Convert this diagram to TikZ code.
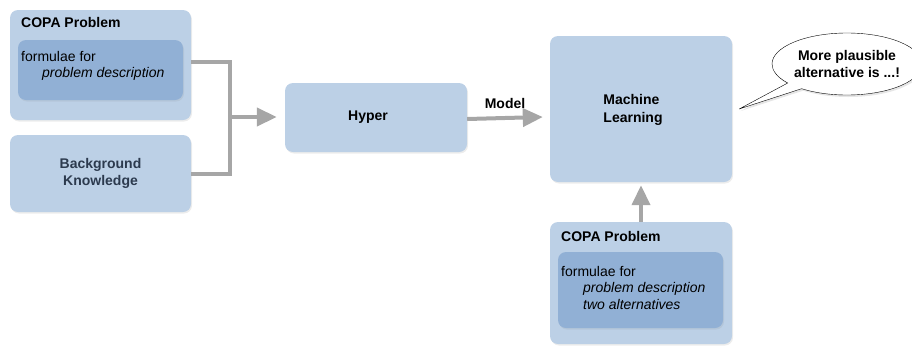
\documentclass[tikz,border=0pt]{standalone}
\usepackage{fontspec}
\setmainfont{Liberation Sans}
\usetikzlibrary{arrows.meta,shapes.callouts,shadows}
\definecolor{boxblue}{RGB}{188,208,230}
\definecolor{innerblue}{RGB}{145,176,213}
\definecolor{flowgray}{RGB}{166,166,166}
\definecolor{slate}{RGB}{44,58,78}
\tikzset{box/.style = {rounded corners=8pt,fill=boxblue,inner sep=0pt,
  drop shadow={opacity=0.15,shadow xshift=1pt,shadow yshift=-1.5pt}}}
\tikzset{innerbox/.style = {rounded corners=8pt,fill=innerblue,inner sep=0pt,
  drop shadow={opacity=0.12,shadow xshift=1pt,shadow yshift=-1.5pt}}}
\tikzset{pipe/.style = {draw=flowgray,line width=4pt}}
\tikzset{flow/.style = {pipe,-{Triangle[length=20pt,width=18pt]}}}
\tikzset{txt/.style = {inner sep=0pt,align=left}}

\begin{document}
\begin{tikzpicture}[x=1pt,y=-1pt,font=\fontsize{14}{16.5}\selectfont]
  \useasboundingbox (0,0) rectangle (912,346);
  % left side
  \node[box,minimum width=181pt,minimum height=110pt] (copa1) at (100.5,65) {};
  \node[innerbox,minimum width=165pt,minimum height=60pt] (inner1) at (100.5,70) {};
  \node[txt,anchor=north west,font=\fontsize{14}{16.5}\selectfont\bfseries] (title1) at (21,17) {COPA Problem};
  \node[txt,anchor=north west] (form1) at (21,51) {formulae for\\\hspace*{21pt}\itshape problem description};
  \node[box,minimum width=181pt,minimum height=77pt] (bk) at (100.5,173.5) {};
  \node[txt,align=center,text=slate,font=\fontsize{14}{17.5}\selectfont\bfseries] (bktext) at (bk) {Background\\Knowledge};

  \node[box,minimum width=182pt,minimum height=69pt] (hyper) at (376,117.5) {};
  \node[txt,font=\fontsize{14}{16.5}\selectfont\bfseries] (hypertext) at (368,117) {Hyper};

  % right side
  \node[box,minimum width=182pt,minimum height=146pt] (ml) at (641,109) {};
  \node[txt,font=\fontsize{14}{17.5}\selectfont\bfseries] (mltext) at (633,110) {Machine\\Learning};

  \node[box,minimum width=182pt,minimum height=122pt] (copa2) at (641,283) {};
  \node[innerbox,minimum width=165pt,minimum height=76pt] (inner2) at (640.5,290) {};
  \node[txt,anchor=north west,font=\fontsize{14}{16.5}\selectfont\bfseries] (title2) at (561,231) {COPA Problem};
  \node[txt,anchor=north west] (form2) at (561,266) {formulae for\\\hspace*{22pt}\itshape problem description\\\hspace*{22pt}\itshape two alternatives};

  \node[ellipse callout,draw=black,fill=white,inner sep=0pt,align=center,
        minimum width=150pt,minimum height=62pt,
        font=\fontsize{14}{16.5}\selectfont\bfseries,
        callout absolute pointer={([xshift=7pt]ml.east)},
        drop shadow={opacity=0.2,shadow xshift=1.5pt,shadow yshift=-2pt}] (say) at (847,64) {More plausible\\alternative is ...!};

  % connectors
  \coordinate (forktop) at (230,62);
  \coordinate (fork) at (230,117);
  \coordinate (forkbot) at (230,174);
  \draw[pipe] (copa1.east |- forktop) -- (forktop) -- (forkbot) -- (bk.east |- forkbot);
  \draw[flow] (fork) -- ([xshift=-8pt]hyper.west |- fork);
  \draw[flow] (hyper.east |- 0,119) -- ([xshift=-7pt]ml.west |- 0,117)
    node[midway,above=4pt,font=\fontsize{14}{16.5}\selectfont\bfseries] (model) {Model};
  \draw[flow] (copa2.north) -- ([yshift=-3pt]ml.south);
\end{tikzpicture}
\end{document}
